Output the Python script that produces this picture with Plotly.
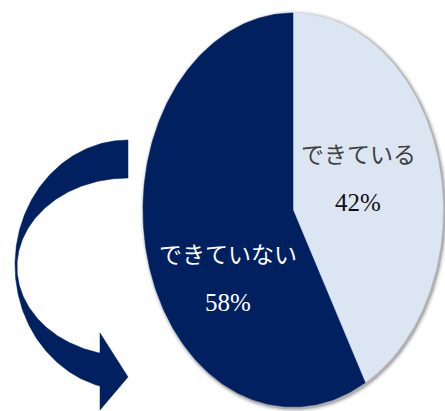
import numpy as np
import plotly.graph_objects as go

# ---- data ----
labels = ["できている", "できていない"]
values = [42, 58]
colors = ["#DCE6F2", "#002060"]
text_colors = ["#404040", "#FFFFFF"]
pct_colors = ["#111111", "#FFFFFF"]

W, H = 445, 411
CX, CY, RX, RY = 293, 210, 150, 197   # ellipse geometry (pixel-like axes)

fig = go.Figure()

def ell(cx, cy, rx, ry, t):
    # t measured clockwise from top; y axis reversed (down positive)
    return cx + rx * np.sin(t), cy - ry * np.cos(t)

# soft shadow
for grow, op in [(4, 0.06), (2.5, 0.10), (1.2, 0.18)]:
    t = np.linspace(0, 2 * np.pi, 300)
    x, y = ell(CX + 1.5, CY + 1.5, RX + grow, RY + grow, t)
    fig.add_trace(go.Scatter(x=x, y=y, fill="toself", mode="lines",
                             line=dict(width=0), fillcolor=f"rgba(0,0,0,{op})",
                             hoverinfo="skip", showlegend=False))

# pie wedges
total = sum(values)
start = 0.0
for lab, v, c in zip(labels, values, colors):
    a0 = start / total * 2 * np.pi
    a1 = (start + v) / total * 2 * np.pi
    t = np.linspace(a0, a1, 200)
    x, y = ell(CX, CY, RX, RY, t)
    x = np.concatenate([[CX], x, [CX]])
    y = np.concatenate([[CY], y, [CY]])
    fig.add_trace(go.Scatter(x=x, y=y, fill="toself", mode="lines",
                             line=dict(width=0.5, color=c), fillcolor=c,
                             hoverinfo="skip", showlegend=False, name=lab))
    start += v

# curved arrow (decoration)
ocx, ocy, orx, ory = 128, 265, 113, 125
icx, icy, irx, iry = 128, 267, 111, 89
xb = 100
to_end = np.pi - np.arcsin((ocx - xb) / orx)
ti_end = np.pi - np.arcsin((icx - xb) / irx)
to = np.linspace(0, to_end, 200)
ti = np.linspace(ti_end, 0, 200)
ox, oy = ocx - orx * np.sin(to), ocy - ory * np.cos(to)
ix, iy = icx - irx * np.sin(ti), icy - iry * np.cos(ti)
head_x = [xb, xb, 128, xb]
head_y = [oy[-1], 410, 377, 333]
ax = np.concatenate([ox, head_x, ix, [ox[0]]])
ay = np.concatenate([oy, head_y, iy, [oy[0]]])
fig.add_trace(go.Scatter(x=ax, y=ay, fill="toself", mode="lines",
                         line=dict(width=0.5, color="#002060"), fillcolor="#002060",
                         hoverinfo="skip", showlegend=False))

# labels
label_pos = [(358, 155, 202), (228, 255, 302)]
for lab, v, tc, pc, (lx, ly1, ly2) in zip(labels, values, text_colors, pct_colors, label_pos):
    fig.add_annotation(x=lx, y=ly1, text=lab, showarrow=False,
                       font=dict(family="Liberation Serif, Noto Sans CJK JP", size=23, color=tc))
    fig.add_annotation(x=lx, y=ly2, text=f"{v}%", showarrow=False,
                       font=dict(family="Liberation Serif, Noto Sans CJK JP", size=25, color=pc))

fig.update_layout(
    width=W, height=H, margin=dict(l=0, r=0, t=0, b=0),
    paper_bgcolor="white", plot_bgcolor="white",
    xaxis=dict(range=[0, W], visible=False, fixedrange=True),
    yaxis=dict(range=[H, 0], visible=False, fixedrange=True),
    showlegend=False,
)
fig.write_html("out.html")
